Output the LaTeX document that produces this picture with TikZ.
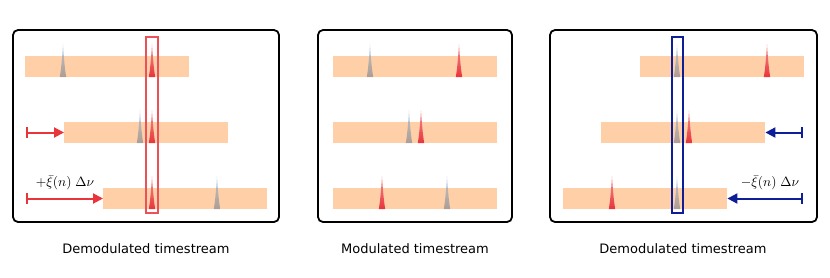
\documentclass[tikz,border=0pt]{standalone}
\usepackage{fontspec}
\newfontfamily\capfont{DejaVu Sans}
\usetikzlibrary{arrows.meta}
\definecolor{bandorange}{RGB}{255,208,168}
\definecolor{peakred}{RGB}{232,52,58}
\definecolor{peakgray}{RGB}{120,125,135}
\definecolor{peakblue}{RGB}{150,185,220}
\definecolor{shiftblue}{RGB}{14,30,150}
\tikzset{
  panel/.style={draw=black,line width=1.8pt,rounded corners=5pt},
  band/.style={fill=bandorange,minimum width=164pt,minimum height=21pt,inner sep=0pt,anchor=west},
  redpeak/.style={top color=peakred!55,bottom color=peakred},
  graypeak/.style={top color=peakblue,bottom color=peakgray,opacity=0.6},
  window/.style={line width=1.2pt},
  shiftarrow/.style={line width=2pt,{Bar[width=11pt,line width=2pt]}-{Triangle[length=10pt,width=10pt]}},
  caption/.style={font=\capfont\fontsize{13}{15}\selectfont},
  shiftlabel/.style={scale=1.35,inner sep=0pt}
}
% a peak: style, x, base
\newcommand{\peak}[3]{\path[#1] (#2-3.2,#3) .. controls (#2-1.8,#3-8) and (#2-0.8,#3-20) .. (#2,#3-33)
    .. controls (#2+0.8,#3-20) and (#2+1.8,#3-8) .. (#2+3.2,#3) -- cycle;}
\begin{document}
\begin{tikzpicture}[x=1pt,y=-1pt]
    \useasboundingbox (0,0) rectangle (830,277);
    % panels
    \draw [panel] (13,30) rectangle (279,222);
    \draw [panel] (318,30) rectangle (512,222);
    \draw [panel] (550,30) rectangle (817,222);
    % bands
    \node [band] (b11) at (25,66.5) {};
    \node [band] (b12) at (64,132.5) {};
    \node [band] (b13) at (103,198.5) {};
    \node [band] (b21) at (333,66.5) {};
    \node [band] (b22) at (333,132.5) {};
    \node [band] (b23) at (333,198.5) {};
    \node [band] (b31) at (640,66.5) {};
    \node [band] (b32) at (601,132.5) {};
    \node [band] (b33) at (563,198.5) {};
    % peaks, left
    \peak{graypeak}{63}{77}
    \peak{redpeak}{152}{77}
    \peak{graypeak}{140}{143}
    \peak{redpeak}{152}{143}
    \peak{redpeak}{152}{209}
    \peak{graypeak}{217}{209}
    % peaks, middle
    \peak{graypeak}{370}{77}
    \peak{redpeak}{459}{77}
    \peak{graypeak}{409}{143}
    \peak{redpeak}{421}{143}
    \peak{redpeak}{382}{209}
    \peak{graypeak}{447}{209}
    % peaks, right
    \peak{graypeak}{677}{77}
    \peak{redpeak}{767}{77}
    \peak{graypeak}{677}{143}
    \peak{redpeak}{689}{143}
    \peak{redpeak}{612}{209}
    \peak{graypeak}{677}{209}
    % windows
    \draw [window,draw=peakred!85] (146,37) rectangle (158,213);
    \draw [window,draw=shiftblue] (672,37) rectangle (683,213);
    % shifts
    \coordinate (s12) at (26,132.5);
    \coordinate (s13) at (26,198.5);
    \coordinate (s32) at (803,132.5);
    \coordinate (s33) at (803,198.5);
    \draw [shiftarrow,peakred] (s12) -- (b12.west);
    \draw [shiftarrow,peakred] (s13) -- (b13.west);
    \draw [shiftarrow,shiftblue] (s32) -- (b32.east);
    \draw [shiftarrow,shiftblue] (s33) -- (b33.east);
    \node [shiftlabel] (plus) at (65,183) {$+\bar{\xi}(n)\;\Delta\nu$};
    \node [shiftlabel] (minus) at (770,183) {$-\bar{\xi}(n)\;\Delta\nu$};
    % captions
    \node [caption] (c1) at (146,249) {Demodulated timestream};
    \node [caption] (c2) at (415,249) {Modulated timestream};
    \node [caption] (c3) at (683,249) {Demodulated timestream};
\end{tikzpicture}
\end{document}
